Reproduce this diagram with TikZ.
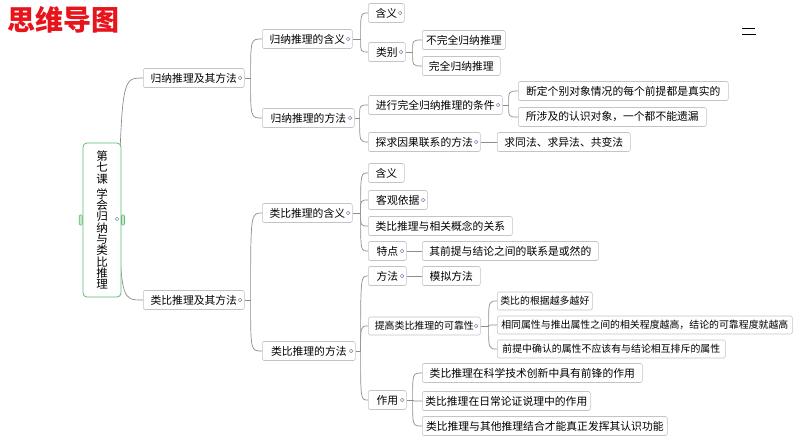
\documentclass[tikz,border=0pt]{standalone}
\usepackage{fontspec}
\setmainfont{Noto Sans CJK SC}
\usetikzlibrary{calc}
\definecolor{boxline}{HTML}{C4C4C4}
\definecolor{conncol}{HTML}{8C8C8C}
\definecolor{dotcol}{HTML}{8796B8}
\definecolor{rootgreen}{HTML}{5DBB73}
\definecolor{tabgreen}{HTML}{C9EBCF}
\definecolor{titlered}{HTML}{E8141B}
\newcommand\dsp{\hspace{6pt}}
\newcommand\brc[2]{\draw[conn] (#1) .. controls (#1 |- #2.west) .. (#2.west);}
\begin{document}
\begin{tikzpicture}[x=1pt,y=-1pt,
 box/.style={draw=boxline, fill=white, rounded corners=1.5pt, anchor=west, minimum width=#1, minimum height=19pt, inner xsep=3pt, inner ysep=2pt, font=\fontsize{10.8}{12}\selectfont, line width=0.6pt},
 sbox/.style={box=#1, font=\fontsize{9.9}{12}\selectfont, minimum height=18pt},
 conn/.style={draw=conncol, line width=0.7pt},
 dot/.style={circle, draw=dotcol, fill=white, inner sep=0pt, minimum size=3.6pt, line width=0.6pt},
 tab/.style={draw=rootgreen, fill=tabgreen, rounded corners=1pt, minimum width=3pt, minimum height=10pt, inner sep=0pt, line width=0.6pt}]
\useasboundingbox (0,0) rectangle (794,447);

% title
\node[anchor=west, text=titlered, font=\fontsize{28}{30}\selectfont\bfseries, inner sep=0pt] (title) at (7,20) {思维导图};
\draw[line width=1pt] (742,28.5) -- (755,28.5);
\draw[line width=1pt] (742,34.5) -- (756,34.5);

% level 1 and 2 nodes
\node[box=101] (n1) at (143,78) {归纳推理及其方法\dsp};
\node[box=101] (n2) at (143,300) {类比推理及其方法\dsp};

\node[box=90] (n11) at (262,39) {归纳推理的含义\dsp};
\node[box=92] (n12) at (262,118) {归纳推理的方法\dsp};
\node[box=36] (n111) at (368,13) {含义\dsp};
\node[box=37] (n112) at (368,52) {类别\dsp};
\node[box=83] (n1121) at (422,40) {不完全归纳推理};
\node[box=78] (n1122) at (422,66) {完全归纳推理};
\node[box=134] (n121) at (368,105) {进行完全归纳推理的条件\dsp};
\node[box=112] (n122) at (368,142) {探求因果联系的方法\dsp};
\node[box=210] (n1211) at (518,91) {断定个别对象情况的每个前提都是真实的};
\node[box=188] (n1212) at (518,117) {所涉及的认识对象，一个都不能遗漏};
\node[box=133] (n1221) at (497,142) {求同法、求异法、共变法};

\node[box=90] (n21) at (262,213) {类比推理的含义\dsp};
\node[box=93] (n22) at (262,351) {类比推理的方法\dsp};
\node[box=36] (n211) at (368,173) {含义};
\node[box=59] (n212) at (368,200) {客观依据\dsp};
\node[box=144] (n213) at (368,226) {类比推理与相关概念的关系};
\node[box=38] (n214) at (368,251) {特点\dsp};
\node[box=176] (n2141) at (422,251) {其前提与结论之间的联系是或然的};
\node[box=38] (n221) at (368,276) {方法\dsp};
\node[box=58] (n2211) at (422,276) {模拟方法};
\node[sbox=112] (n222) at (368,326) {提高类比推理的可靠性\dsp};
\node[sbox=95] (n2221) at (497,301) {类比的根据越多越好};
\node[sbox=295] (n2222) at (497,325) {相同属性与推出属性之间的相关程度越高，结论的可靠程度就越高};
\node[sbox=228] (n2223) at (497,349) {前提中确认的属性不应该有与结论相互排斥的属性};
\node[box=38] (n223) at (368,400) {作用\dsp};
\node[box=220] (n2231) at (422,373) {类比推理在科学技术创新中具有前锋的作用};
\node[box=168] (n2232) at (422,401) {类比推理在日常论证说理中的作用};
\node[box=245] (n2233) at (422,426) {类比推理与其他推理结合才能真正发挥其认识功能};

% connectors
\draw[conn] (n1.east) -- ++(6,0) coordinate (j1);
\brc{j1}{n11}\brc{j1}{n12}
\draw[conn] (n11.east) -- ++(8,0) coordinate (j11);
\brc{j11}{n111}\brc{j11}{n112}
\draw[conn] (n112.east) -- ++(7,0) coordinate (j112);
\brc{j112}{n1121}\brc{j112}{n1122}
\draw[conn] (n12.east) -- ++(5,0) coordinate (j12);
\brc{j12}{n121}\brc{j12}{n122}
\draw[conn] (n121.east) -- ++(6,0) coordinate (j121);
\brc{j121}{n1211}\brc{j121}{n1212}
\draw[conn] (n122.east) -- (n1221.west);

\draw[conn] (n2.east) -- ++(6,0) coordinate (j2);
\brc{j2}{n21}\brc{j2}{n22}
\draw[conn] (n21.east) -- ++(8,0) coordinate (j21);
\brc{j21}{n211}\brc{j21}{n212}\brc{j21}{n213}\brc{j21}{n214}
\draw[conn] (n214.east) -- (n2141.west);
\draw[conn] (n22.east) -- ++(5,0) coordinate (j22);
\brc{j22}{n221}\brc{j22}{n222}\brc{j22}{n223}
\draw[conn] (n221.east) -- (n2211.west);
\draw[conn] (n222.east) -- ++(8,0) coordinate (j222);
\brc{j222}{n2221}\brc{j222}{n2222}\brc{j222}{n2223}
\draw[conn] (n223.east) -- ++(6,0) coordinate (j223);
\brc{j223}{n2231}\brc{j223}{n2232}\brc{j223}{n2233}

% root connectors (behind root)
\draw[conn] (118,218) .. controls (122,78) .. (n1.west);
\draw[conn] (118,218) .. controls (122,300) .. (n2.west);

% root
\node[draw=rootgreen, fill=white, rounded corners=4pt, minimum width=38pt, minimum height=154pt, line width=0.8pt, align=center, inner sep=0pt, font=\fontsize{11.5}{11.3}\selectfont] (root) at (102,220)
 {第\\七\\课\\[4pt]学\\会\\归\\纳\\与\\类\\比\\推\\理};
\node[tab] (tabL) at (80.7,220) {};
\node[tab] (tabR) at (123,220) {};
\node[dot] at (117,219) {};

% dots
\foreach \n in {n1,n2,n11,n12,n111,n112,n121,n122,n21,n22,n212,n214,n221,n222,n223}
  \node[dot] at ($(\n.east)+(-4.5,0)$) {};
\end{tikzpicture}
\end{document}
